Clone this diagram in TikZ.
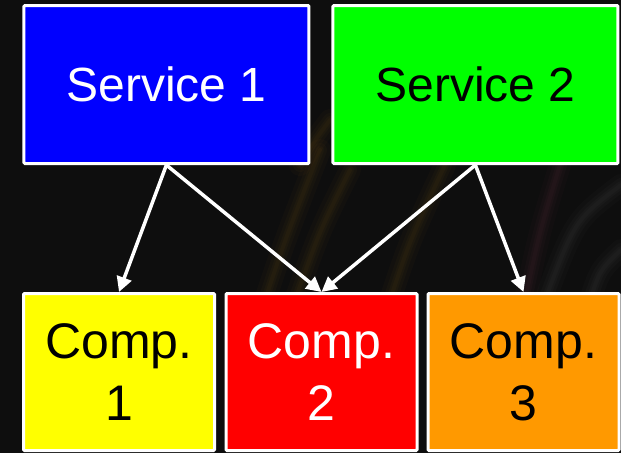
\documentclass[tikz,border=0pt]{standalone}
\usepackage{fontspec}
\setmainfont{Liberation Sans}
\usetikzlibrary{arrows.meta}
\definecolor{bgdark}{RGB}{14,14,14}
\definecolor{sblue}{RGB}{0,0,255}
\definecolor{sgreen}{RGB}{0,255,0}
\definecolor{cyellow}{RGB}{255,255,0}
\definecolor{cred}{RGB}{255,0,0}
\definecolor{corange}{RGB}{255,153,0}
\definecolor{streakgold}{RGB}{120,85,20}
\definecolor{streakpink}{RGB}{110,50,70}
\definecolor{streakgrey}{RGB}{110,110,110}
\tikzset{
  svcbox/.style={draw=white, line width=3pt, rounded corners=1pt, minimum width=285pt, minimum height=158pt, inner sep=0pt, font=\fontsize{48}{60}\selectfont},
  compbox/.style={draw=white, line width=3pt, rounded corners=1pt, minimum width=191pt, minimum height=157pt, inner sep=0pt, align=center, font=\fontsize{50}{62}\selectfont},
  link/.style={draw=white, line width=3.5pt, -{Triangle[length=15pt,width=15pt]}},
  streak/.style={line cap=round}
}
\begin{document}
\begin{tikzpicture}[x=1pt,y=-1pt]
\fill[bgdark] (0,0) rectangle (621,453);
\useasboundingbox (0,0) rectangle (621,453);
% faint background streaks
\foreach \w/\o in {22/0.05,14/0.06,8/0.07,4/0.07}{
  \draw[streak,streakgold,line width=\w pt,opacity=\o] (265,300) .. controls (285,240) .. (320,150);
  \draw[streak,streakgold,line width=\w pt,opacity=\o] (295,300) .. controls (320,230) .. (350,170);
  \draw[streak,streakgold,line width=\w pt,opacity=\o] (390,300) .. controls (410,240) .. (445,165);
  \draw[streak,streakgold,line width=\w pt,opacity=\o] (300,165) .. controls (315,140) .. (330,120);
  \draw[streak,streakpink,line width=\w pt,opacity=\o] (525,300) .. controls (540,230) .. (560,165);
  \draw[streak,streakgrey,line width=\w pt,opacity=\o*0.7] (545,300) .. controls (575,220) .. (621,185);
  \draw[streak,streakgrey,line width=\w pt,opacity=\o*0.7] (590,300) .. controls (600,270) .. (621,250);
}
% nodes
\node[svcbox, fill=sblue, text=white] (s1) at (166.4,84.5) {Service 1};
\node[svcbox, fill=sgreen, text=black] (s2) at (475.4,84.5) {Service 2};
\node[compbox, fill=cyellow, text=black] (c1) at (119,372) {Comp.\\1};
\node[compbox, fill=cred, text=white] (c2) at (321.5,372) {Comp.\\2};
\node[compbox, fill=corange, text=black] (c3) at (523.5,372) {Comp.\\3};
% connectors
\draw[link] (s1.south) -- (c1.north);
\draw[link] (s1.south) -- (c2.north);
\draw[link] (s2.south) -- (c2.north);
\draw[link] (s2.south) -- (c3.north);
\end{tikzpicture}
\end{document}
